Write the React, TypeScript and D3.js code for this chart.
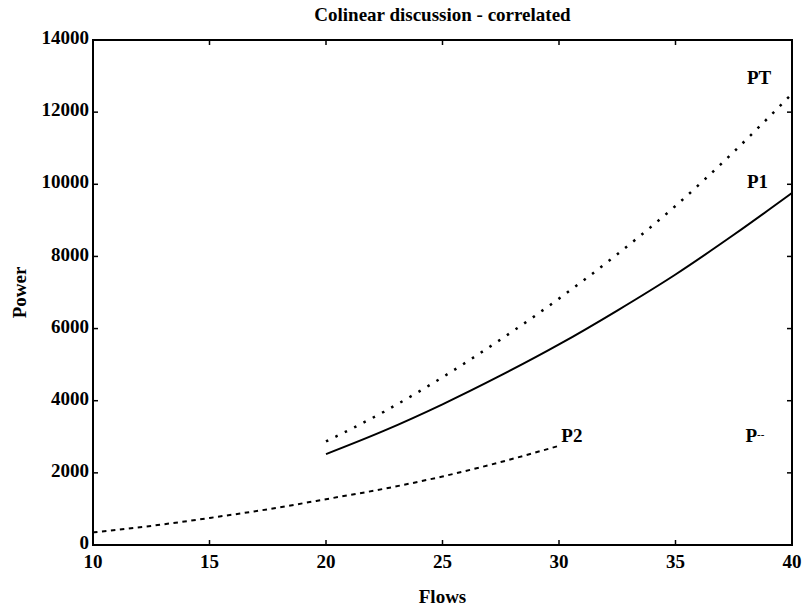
import React from "react";
import * as d3 from "d3";

const flowsP1 = [20, 22.5, 25, 27.5, 30, 32.5, 35, 37.5, 40];
const powerP1 = [2520, 3170, 3900, 4700, 5560, 6500, 7500, 8600, 9760];
const flowsPT = [20, 22.5, 25, 27.5, 30, 32.5, 35, 37.5, 40];
const powerPT = [2870, 3700, 4650, 5700, 6830, 8060, 9400, 10900, 12510];
const flowsP2 = [10, 12.5, 15, 17.5, 20, 22.5, 25, 27.5, 30];
const powerP2 = [350, 530, 750, 990, 1270, 1560, 1900, 2300, 2750];
const xTicks = [10, 15, 20, 25, 30, 35, 40];
const yTicks = [0, 2000, 4000, 6000, 8000, 10000, 12000, 14000];
const title = "Colinear discussion - correlated";
const xLabel = "Flows";
const yLabel = "Power";

const W = 803, H = 616;
const L = 93, R = 792, T = 40, B = 545;
const FONT = "'Liberation Serif', 'Times New Roman', serif";

export default function App() {
  const x = d3.scaleLinear().domain([10, 40]).range([L, R]);
  const y = d3.scaleLinear().domain([0, 14000]).range([B, T]);
  const line = d3.line<[number, number]>().x(d => x(d[0])).y(d => y(d[1])).curve(d3.curveMonotoneX);
  const zip = (a: number[], b: number[]) => a.map((v, i) => [v, b[i]] as [number, number]);
  const tl = 5;
  return (
    <svg width={W} height={H} style={{ position: "absolute", left: 0, top: 0, background: "#fff" }}
      fontFamily={FONT}>
      <rect x={0} y={0} width={W} height={H} fill="#fff" />
      <text x={(L + R) / 2} y={21} textAnchor="middle" fontSize={19} fontWeight="bold">{title}</text>
      <rect x={L} y={T} width={R - L} height={B - T} fill="none" stroke="#000" strokeWidth={2} />
      {xTicks.map(t => (
        <g key={"x" + t}>
          <line x1={x(t)} x2={x(t)} y1={B} y2={B - tl} stroke="#000" strokeWidth={1.5} />
          <line x1={x(t)} x2={x(t)} y1={T} y2={T + tl} stroke="#000" strokeWidth={1.5} />
          <text x={x(t)} y={568} textAnchor="middle" fontSize={19} fontWeight="bold">{t}</text>
        </g>
      ))}
      {yTicks.map(t => (
        <g key={"y" + t}>
          <line x1={L} x2={L + tl} y1={y(t)} y2={y(t)} stroke="#000" strokeWidth={1.5} />
          <line x1={R} x2={R - tl} y1={y(t)} y2={y(t)} stroke="#000" strokeWidth={1.5} />
          <text x={L - 4} y={y(t)} dy="0.22em" textAnchor="end" fontSize={19} fontWeight="bold">{t}</text>
        </g>
      ))}
      <text x={(L + R) / 2} y={603} textAnchor="middle" fontSize={19} fontWeight="bold">{xLabel}</text>
      <text transform={`translate(26,${(T + B) / 2}) rotate(-90)`} textAnchor="middle" fontSize={19} fontWeight="bold">{yLabel}</text>
      <path d={line(zip(flowsPT, powerPT)) || ""} fill="none" stroke="#000" strokeWidth={2.5} strokeDasharray="2.5,8" />
      <path d={line(zip(flowsP1, powerP1)) || ""} fill="none" stroke="#000" strokeWidth={2} />
      <path d={line(zip(flowsP2, powerP2)) || ""} fill="none" stroke="#000" strokeWidth={2} strokeDasharray="4.5,4.5" />
      <text x={x(38.07)} y={y(12000)} dy="-1.5em" fontSize={19} fontWeight="bold">PT</text>
      <text x={x(38.07)} y={y(9900)} fontSize={19} fontWeight="bold">P1</text>
      <text x={x(30.1)} y={y(2850)} fontSize={19} fontWeight="bold">P2</text>
      <text x={x(38.0)} y={y(2850)} fontSize={19} fontWeight="bold">P<tspan fontSize={11} dy="-4">--</tspan></text>
    </svg>
  );
}
